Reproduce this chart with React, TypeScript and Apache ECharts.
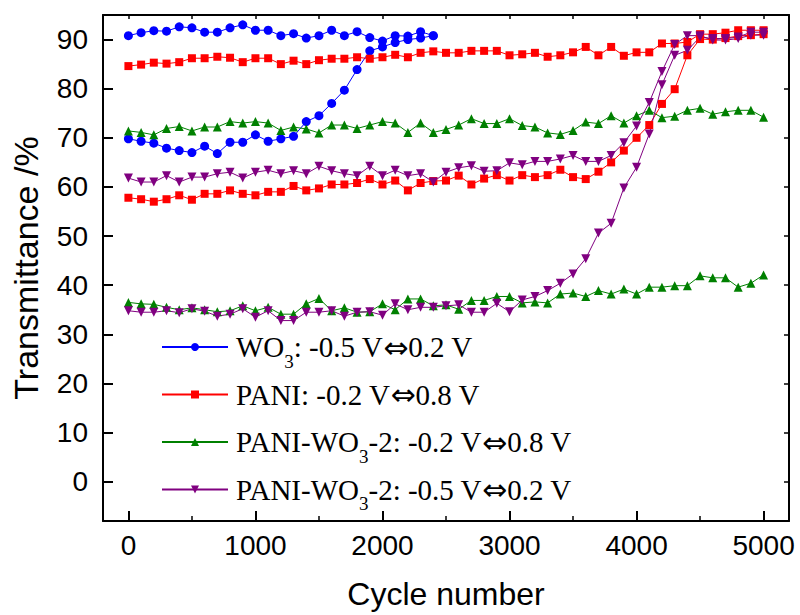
import React, { useEffect, useRef } from "react";
import * as echarts from "echarts";

const cycles = [0, 100, 200, 300, 400, 500, 600, 700, 800, 900, 1000, 1100, 1200, 1300, 1400, 1500, 1600, 1700, 1800, 1900, 2000, 2100, 2200, 2300, 2400, 2500, 2600, 2700, 2800, 2900, 3000, 3100, 3200, 3300, 3400, 3500, 3600, 3700, 3800, 3900, 4000, 4100, 4200, 4300, 4400, 4500, 4600, 4700, 4800, 4900, 5000];

const wo3High = [90.8, 91.4, 91.8, 91.7, 92.6, 92.4, 91.5, 91.5, 92.4, 93.0, 91.9, 91.9, 90.8, 91.2, 90.3, 90.8, 91.9, 90.8, 91.6, 90.4, 89.7, 90.8, 90.7, 91.6, 90.8];
const wo3Low = [69.8, 69.3, 68.9, 67.9, 67.4, 67.0, 68.3, 66.8, 69.1, 69.1, 70.6, 69.3, 69.8, 70.3, 73.3, 74.5, 77.0, 79.7, 83.9, 87.7, 88.5, 89.4, 90.0, 90.3, 90.8];

const paniHigh = [84.6, 84.9, 85.3, 85.1, 85.4, 86.2, 86.2, 86.5, 86.3, 85.4, 86.2, 86.2, 85.0, 85.7, 85.0, 85.8, 86.1, 86.1, 86.4, 86.1, 86.4, 86.9, 86.4, 87.3, 87.6, 87.3, 87.3, 87.7, 87.7, 87.7, 86.8, 87.0, 87.3, 86.5, 86.8, 87.4, 88.5, 86.8, 88.5, 86.7, 87.4, 87.4, 89.2, 89.2, 89.5, 91.1, 91.1, 91.4, 91.9, 91.9, 91.9];
const paniLow = [57.8, 57.5, 57.0, 57.5, 58.3, 57.4, 58.6, 58.6, 59.3, 58.6, 58.3, 59.0, 59.0, 60.2, 59.3, 59.7, 60.5, 60.5, 60.8, 61.6, 60.5, 61.3, 59.3, 60.8, 61.2, 61.3, 62.3, 60.5, 61.7, 62.4, 61.3, 62.4, 62.0, 62.4, 63.5, 62.0, 61.6, 63.1, 65.0, 67.4, 70.0, 72.6, 76.9, 79.9, 86.8, 90.1, 90.0, 90.3, 90.7, 90.9, 91.1];

const compHigh = [71.4, 71.1, 70.6, 71.9, 72.3, 71.4, 72.2, 72.2, 73.3, 73.0, 73.3, 73.0, 71.5, 72.2, 71.8, 71.0, 72.6, 72.6, 71.9, 72.6, 73.3, 73.0, 71.1, 73.0, 71.1, 71.7, 72.6, 73.9, 72.9, 72.9, 73.9, 72.5, 72.2, 71.0, 70.7, 71.5, 73.2, 72.9, 74.5, 73.0, 74.5, 75.6, 74.1, 74.4, 75.6, 76.0, 74.8, 75.3, 75.6, 75.6, 74.2];
const compLow = [36.5, 36.2, 36.1, 35.5, 35.0, 35.4, 35.0, 34.6, 34.8, 35.8, 34.8, 35.5, 34.1, 34.1, 36.2, 37.3, 34.8, 35.4, 34.5, 34.6, 36.2, 35.0, 37.2, 37.2, 35.8, 36.0, 35.1, 36.9, 36.9, 37.7, 37.7, 36.4, 36.6, 36.4, 38.2, 38.4, 37.7, 38.9, 38.2, 39.2, 38.2, 39.6, 39.6, 39.9, 39.9, 41.9, 41.5, 41.5, 39.6, 40.4, 42.1];

const comp2High = [61.8, 61.0, 61.0, 62.3, 61.0, 62.0, 62.0, 62.7, 63.0, 61.8, 63.0, 63.4, 62.7, 63.3, 62.7, 64.2, 63.3, 62.7, 62.3, 64.2, 62.3, 63.4, 62.3, 62.7, 61.0, 63.0, 63.9, 64.3, 63.2, 63.3, 64.9, 64.5, 65.2, 65.2, 65.7, 66.4, 65.2, 65.2, 66.4, 69.0, 72.4, 77.2, 83.5, 89.0, 90.8, 90.8, 89.9, 89.9, 90.2, 90.9, 90.9];
const comp2Low = [34.8, 34.5, 34.5, 34.8, 34.4, 35.2, 34.7, 33.7, 34.1, 35.2, 33.5, 34.8, 32.8, 32.8, 34.5, 34.5, 34.8, 33.7, 34.5, 34.6, 33.9, 36.2, 35.0, 35.5, 35.5, 35.8, 36.0, 34.5, 34.5, 36.3, 34.6, 37.0, 37.7, 38.9, 40.4, 42.3, 45.4, 50.6, 52.6, 59.8, 64.0, 70.8, 80.8, 86.8, 87.8, 90.5, 90.2, 90.2, 90.5, 91.5, 91.5];

const seriesNames = [
  "WO3: -0.5 V⇔0.2 V",
  "PANI: -0.2 V⇔0.8 V",
  "PANI-WO3-2: -0.2 V⇔0.8 V",
  "PANI-WO3-2: -0.5 V⇔0.2 V",
];
const legendRich = [
  "{t|WO}{s|3}{t|: -0.5 V}{a|⇔}{t|0.2 V}",
  "{t|PANI: -0.2 V}{a|⇔}{t|0.8 V}{s| }",
  "{t|PANI-WO}{s|3}{t|-2: -0.2 V}{a|⇔}{t|0.8 V}",
  "{t|PANI-WO}{s|3}{t|-2: -0.5 V}{a|⇔}{t|0.2 V}",
];
const colors = ["#0000ff", "#ff0000", "#008000", "#800080"];
const symbols = ["circle", "rect", "triangle", "triangle"];
const rotations = [0, 0, 0, 180];

const pairs = (vals: number[]) => vals.map((v, i) => [cycles[i], v]);

export default function App() {
  const ref = useRef<HTMLDivElement>(null);
  useEffect(() => {
    const chart = echarts.init(ref.current!, null, { renderer: "svg" });
    const groups = [
      [wo3High, wo3Low],
      [paniHigh, paniLow],
      [compHigh, compLow],
      [comp2High, comp2Low],
    ];
    const series: any[] = [];
    groups.forEach((g, gi) => {
      g.forEach((vals) => {
        series.push({
          type: "line",
          name: seriesNames[gi],
          data: pairs(vals),
          symbol: symbols[gi],
          symbolRotate: rotations[gi],
          symbolSize: gi === 1 ? 8 : 9,
          color: colors[gi],
          lineStyle: { color: colors[gi], width: 1 },
          itemStyle: { color: colors[gi] },
        });
      });
    });
    const sans = "'Liberation Sans', Arial, sans-serif";
    const serif = "'Liberation Serif', 'Times New Roman', serif";
    chart.setOption({
      animation: false,
      backgroundColor: "#fff",
      grid: { left: 103, right: 11, top: 15, bottom: 92 },
      legend: {
        orient: "vertical",
        left: 161,
        top: 332,
        padding: 0,
        itemGap: 9,
        itemWidth: 66,
        itemHeight: 10,
        selectedMode: false,
        data: seriesNames,
        formatter: (name: string) => legendRich[seriesNames.indexOf(name)],
        textStyle: {
          color: "#000",
          fontFamily: serif,
          fontSize: 29,
          lineHeight: 30,
          padding: [0, 0, 0, 3],
          rich: {
            t: { fontFamily: serif, fontSize: 29, lineHeight: 30, color: "#000" },
            a: { fontFamily: "'DejaVu Sans', sans-serif", fontSize: 30, lineHeight: 30, color: "#000" },
            s: { fontFamily: serif, fontSize: 19, lineHeight: 30, height: 2, verticalAlign: "bottom", color: "#000" },
          },
        },
      },
      xAxis: [
        {
          type: "value",
          position: "bottom",
          min: -200,
          max: 5200,
          splitNumber: 5,
          name: "Cycle number",
          nameLocation: "middle",
          nameGap: 57,
          nameTextStyle: { fontFamily: sans, fontSize: 32, color: "#000" },
          axisLine: { show: true, onZero: false, lineStyle: { color: "#000", width: 2 } },
          axisTick: { show: true, inside: true, length: 10, lineStyle: { color: "#000", width: 2 } },
          axisLabel: {
            fontFamily: sans,
            fontSize: 28,
            color: "#000",
            margin: 10,
            showMinLabel: false,
            showMaxLabel: false,
            formatter: (v: number) => String(v),
          },
          splitLine: { show: false },
        },
        {
          type: "value",
          position: "bottom",
          min: -200,
          max: 5200,
          splitNumber: 10,
          axisLine: { show: false, onZero: false },
          axisTick: { show: true, inside: true, length: 5, lineStyle: { color: "#000", width: 1.5 } },
          axisLabel: { show: false },
          splitLine: { show: false },
        },
        {
          type: "value",
          position: "top",
          min: -200,
          max: 5200,
          splitNumber: 10,
          axisLine: { show: true, onZero: false, lineStyle: { color: "#000", width: 2 } },
          axisTick: { show: true, inside: true, length: 4, lineStyle: { color: "#000", width: 1.5 } },
          axisLabel: { show: false },
          splitLine: { show: false },
        },
      ],
      yAxis: [
        {
          type: "value",
          position: "left",
          min: -8,
          max: 95,
          splitNumber: 10,
          name: "Transmittance /%",
          nameLocation: "middle",
          nameGap: 60,
          nameTextStyle: { fontFamily: sans, fontSize: 34, color: "#000" },
          axisLine: { show: true, onZero: false, lineStyle: { color: "#000", width: 2 } },
          axisTick: { show: true, inside: true, length: 10, lineStyle: { color: "#000", width: 2 } },
          axisLabel: {
            fontFamily: sans,
            fontSize: 28,
            color: "#000",
            margin: 15,
            showMinLabel: false,
            showMaxLabel: false,
            formatter: (v: number) => String(v),
          },
          splitLine: { show: false },
        },
        {
          type: "value",
          position: "right",
          min: -8,
          max: 95,
          splitNumber: 10,
          axisLine: { show: true, onZero: false, lineStyle: { color: "#000", width: 2 } },
          axisTick: { show: true, inside: true, length: 5, lineStyle: { color: "#000", width: 1.5 } },
          axisLabel: { show: false },
          splitLine: { show: false },
        },
      ],
      series,
    });
    return () => chart.dispose();
  }, []);
  return <div ref={ref} style={{ position: "fixed", left: 0, top: 0, width: 800, height: 615 }} />;
}
